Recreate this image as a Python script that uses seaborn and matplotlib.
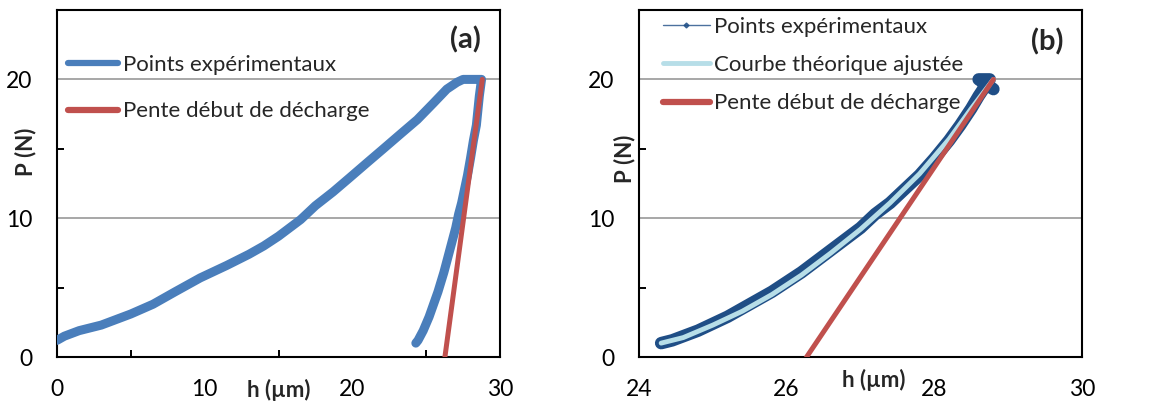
import numpy as np
import pandas as pd
import matplotlib
matplotlib.use("Agg")
import matplotlib.pyplot as plt
from matplotlib.lines import Line2D
from matplotlib.ticker import MultipleLocator
import seaborn as sns

# ---------------- data ----------------
# Panel (a): full load / hold / unload cycle
a_h = [0.0, 0.5, 1.5, 3.0, 5.0, 6.5, 8.0, 9.7, 11.5, 13.0, 14.0, 15.0, 16.0, 16.5,
       17.5, 18.7, 19.8, 21.0, 22.1, 23.3, 24.4, 25.5, 26.4, 27.1, 27.5, 28.0, 28.5, 28.75,
       28.6, 28.4, 28.2, 28.0, 27.8, 27.6, 27.4, 27.2, 27.0, 26.8, 26.6, 26.4, 26.2,
       26.0, 25.8, 25.6, 25.4, 25.2, 25.0, 24.8, 24.6, 24.45, 24.3]
a_P = [1.2, 1.5, 1.9, 2.3, 3.1, 3.8, 4.7, 5.7, 6.6, 7.4, 8.0, 8.7, 9.5, 9.9,
       10.9, 11.9, 12.9, 14.0, 15.0, 16.1, 17.1, 18.3, 19.3, 19.8, 20.0, 20.0, 20.0, 20.0,
       18.8, 16.7, 15.6, 14.3, 13.1, 12.1, 11.1, 10.3, 9.3, 8.5, 7.7, 6.9, 6.1,
       5.4, 4.7, 4.1, 3.5, 2.9, 2.4, 1.9, 1.5, 1.2, 1.0]

# Panel (b): unloading points and fitted curve
b_h = [24.30, 24.45, 24.60, 24.80, 25.00, 25.20, 25.40, 25.60, 25.80, 26.00, 26.20,
       26.40, 26.60, 26.80, 27.00, 27.20, 27.40, 27.60, 27.80, 28.00, 28.20, 28.35,
       28.50, 28.60, 28.70, 28.75, 28.60, 28.80]
b_P = [1.0, 1.2, 1.5, 1.9, 2.4, 2.9, 3.5, 4.1, 4.7, 5.4, 6.1, 6.9, 7.7, 8.5, 9.3,
       10.3, 11.1, 12.1, 13.1, 14.3, 15.6, 16.7, 17.9, 18.8, 19.6, 20.0, 20.0, 19.3]
fit_h = [24.3, 24.6, 25.0, 25.4, 25.8, 26.2, 26.6, 27.0, 27.4, 27.8, 28.2, 28.5, 28.8]
fit_P = [1.0, 1.4, 2.3, 3.3, 4.5, 5.9, 7.5, 9.2, 11.1, 13.2, 15.7, 17.9, 20.0]

# initial unloading slope (same line in both panels)
slope_h = [26.27, 28.8]
slope_P = [0.0, 20.0]

lab_exp = "Points expérimentaux"
lab_fit = "Courbe théorique ajustée"
lab_slope = "Pente début de décharge"

# ---------------- style ----------------
sns.set_theme(style="white")
plt.rcParams["font.family"] = ["Lato", "DejaVu Sans"]
plt.rcParams["axes.unicode_minus"] = False

BLUE = "#4A7EBB"
RED = "#C0504D"
DARK = "#1F4E86"
LIGHT = "#B7DEE8"
GRID = "#A0A0A0"

fig = plt.figure(figsize=(11.64, 4.03), dpi=100)
axA = fig.add_axes([57 / 1164, 46 / 403, 443 / 1164, 347 / 403])
axB = fig.add_axes([639 / 1164, 46 / 403, 443 / 1164, 347 / 403])

dfA = pd.DataFrame({"h": a_h, "P": a_P})
dfB = pd.DataFrame({"h": b_h, "P": b_P})
dfF = pd.DataFrame({"h": fit_h, "P": fit_P})
dfS = pd.DataFrame({"h": slope_h, "P": slope_P})

# panel (a)
sns.lineplot(data=dfA, x="h", y="P", sort=False, estimator=None, ax=axA,
             color=BLUE, lw=6.5, solid_capstyle="round", solid_joinstyle="round", zorder=3)
sns.lineplot(data=dfS, x="h", y="P", sort=False, estimator=None, ax=axA,
             color=RED, lw=3.6, zorder=4)

# panel (b)
sns.lineplot(data=dfB, x="h", y="P", sort=False, estimator=None, ax=axB,
             color=DARK, lw=9, solid_capstyle="round", solid_joinstyle="round", zorder=3)
sns.lineplot(data=dfF, x="h", y="P", sort=False, estimator=None, ax=axB,
             color=LIGHT, lw=3.5, solid_capstyle="round", zorder=4)
sns.lineplot(data=dfS, x="h", y="P", sort=False, estimator=None, ax=axB,
             color=RED, lw=3.6, zorder=5)

FS = 16.5
LFS = 16
for ax, xlim, xmaj, xmin in [(axA, (0, 30), 10, 5), (axB, (24, 30), 2, None)]:
    ax.set_xlim(*xlim)
    ax.set_ylim(0, 25)
    ax.xaxis.set_major_locator(MultipleLocator(xmaj))
    if xmin:
        ax.xaxis.set_minor_locator(MultipleLocator(xmin))
    ax.yaxis.set_major_locator(MultipleLocator(10))
    ax.yaxis.set_minor_locator(MultipleLocator(5))
    ax.set_yticks([0, 10, 20])
    ax.grid(False)
    for y in (10, 20):
        ax.axhline(y, color=GRID, lw=1.3, zorder=1)
    for s in ax.spines.values():
        s.set_color("black")
        s.set_linewidth(1.5)
        s.set_visible(True)
    ax.tick_params(axis="both", which="both", direction="in", length=5, width=1.4,
                   color="black", labelsize=FS, labelcolor="black")
    ax.tick_params(axis="x", which="major", pad=16)
    ax.tick_params(axis="y", which="major", pad=18)
    ax.tick_params(axis="x", which="minor", bottom=True)
    ax.tick_params(axis="y", which="minor", left=True)
    ax.set_xlabel("h (µm)", fontsize=16, fontweight="bold", va="center")
    ax.set_ylabel("P (N)", fontsize=16, fontweight="bold", va="center")

axA.xaxis.set_label_coords(0.5, -0.095)
axA.yaxis.set_label_coords(-0.072, 0.59)
axB.xaxis.set_label_coords(0.53, -0.066)
axB.yaxis.set_label_coords(-0.032, 0.57)

axA.text(0.921, 0.914, "(a)", transform=axA.transAxes, ha="center", va="center",
         fontsize=21, fontweight="bold")
axB.text(0.921, 0.908, "(b)", transform=axB.transAxes, ha="center", va="center",
         fontsize=21, fontweight="bold")

hA = [Line2D([], [], color=BLUE, lw=4.5, solid_capstyle="round"),
      Line2D([], [], color=RED, lw=4.5, solid_capstyle="round")]
axA.legend(hA, [lab_exp, lab_slope], loc="upper left", bbox_to_anchor=(0.025, 0.87),
           frameon=False, fontsize=LFS, handlelength=2.25, handletextpad=0.2,
           labelspacing=1.18, borderaxespad=0, borderpad=0)

hB = [Line2D([], [], color=DARK, lw=1, marker="D", markersize=2.5, alpha=0.8),
      Line2D([], [], color=LIGHT, lw=3.5),
      Line2D([], [], color=RED, lw=4.5, solid_capstyle="round")]
axB.legend(hB, [lab_exp, lab_fit, lab_slope], loc="upper left", bbox_to_anchor=(0.054, 0.98),
           frameon=False, fontsize=LFS, handlelength=2.1, handletextpad=0.22,
           labelspacing=0.82, borderaxespad=0, borderpad=0)

fig.savefig("out.png", dpi=100)
